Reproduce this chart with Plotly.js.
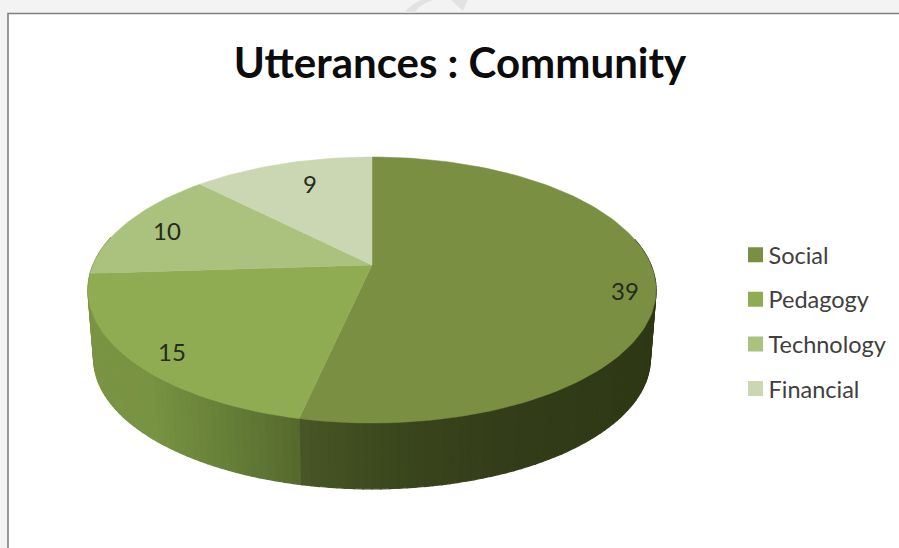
<!DOCTYPE html>
<html><head><meta charset="utf-8">
<script src="https://cdn.plot.ly/plotly-3.0.1.min.js"></script>
<style>html,body{margin:0;padding:0;background:#fff;overflow:hidden}#c{width:899px;height:548px}</style>
</head><body><div id="c"></div>
<script>
const categories = ['Social','Pedagogy','Technology','Financial'];
const values = [39,15,10,9];
const topColors = ['#7b8f42','#8fac52','#abc27f','#cbd7b2'];
const titleText = 'Utterances : Community';
const labelX = [625,172,167,310];
const labelY = [290,351,230,183];
// wall shading: [screen x, r, g, b]
const wallStops = [
  [[302,72,86,38],[400,58,70,28],[500,52,61,25],[660,46,56,21]],
  [[85,122,148,67],[150,120,147,66],[250,96,120,52],[302,86,104,45]],
  [[85,122,148,67],[302,122,148,67]],
  [[85,122,148,67],[302,122,148,67]]
];
const view = {cx:372, cy:265, a:128.3, b:279, d:0.188, depth:69, shrink:0.98};
function proj(deg, r, low){
  const th = deg*Math.PI/180, u = r*Math.sin(th), t = -r*Math.cos(th), w = 1 - view.d*t;
  let x = view.b*u/w, y = view.a*t/w;
  if(low){ x*=view.shrink; y=y*view.shrink+view.depth; }
  return [view.cx+x, view.cy+y];
}
function wallColor(stops,x){
  let s=stops, i=0;
  if(x<=s[0][0]) i=0; else { while(i<s.length-2 && x>s[i+1][0]) i++; }
  const f=Math.max(0,Math.min(1,(x-s[i][0])/(s[i+1][0]-s[i][0])));
  const c=[1,2,3].map(k=>Math.round(s[i][k]+(s[i+1][k]-s[i][k])*f));
  return 'rgb('+c.join(',')+')';
}
const total = values.reduce((a,b)=>a+b,0);
const traces = [];
let start = 0;
const bounds = values.map(v=>{const s=start; start+=v/total*360; return [s,start];});
// side wall
const wallFrom = 78, wallTo = 283, step = 1.5;
bounds.forEach((bd,i)=>{
  const lo=Math.max(bd[0],wallFrom), hi=Math.min(bd[1],wallTo);
  for(let a=lo; a<hi-1e-6; a+=step){
    const e=Math.min(a+step,hi);
    const p=[proj(a,1,false),proj(e,1,false),proj(e,1,true),proj(a,1,true)];
    const col=wallColor(wallStops[i],(p[0][0]+p[1][0])/2);
    traces.push({type:'scatter',mode:'lines',fill:'toself',fillcolor:col,line:{color:col,width:1.2},
      x:p.map(q=>q[0]).concat(p[0][0]),y:p.map(q=>q[1]).concat(p[0][1]),showlegend:false,hoverinfo:'skip'});
  }
});
// top face
bounds.forEach((bd,i)=>{
  const xs=[view.cx], ys=[view.cy];
  const n=Math.ceil((bd[1]-bd[0])/1.5);
  for(let k=0;k<=n;k++){const q=proj(bd[0]+(bd[1]-bd[0])*k/n,1,false);xs.push(q[0]);ys.push(q[1]);}
  xs.push(view.cx);ys.push(view.cy);
  traces.push({type:'scatter',mode:'lines',fill:'toself',fillcolor:topColors[i],line:{color:topColors[i],width:0.5},
    x:xs,y:ys,name:categories[i],legendgroup:categories[i],showlegend:false,hoverinfo:'skip'});
});
// legend entries
categories.forEach((c,i)=>{
  traces.push({type:'scatter',mode:'markers',x:[null],y:[null],name:c,legendgroup:c,
    marker:{symbol:'square',size:15,color:topColors[i]},hoverinfo:'skip'});
});
const layout = {
  width:899,height:548,margin:{l:0,r:0,t:0,b:0},
  paper_bgcolor:'#f3f3f3',plot_bgcolor:'rgba(0,0,0,0)',
  font:{family:'Lato, sans-serif'},
  xaxis:{range:[0,899],visible:false,fixedrange:true},
  yaxis:{range:[548,0],visible:false,fixedrange:true},
  title:{text:'<b>'+titleText+'</b>',x:460/899,xanchor:'center',y:1-63/548,yanchor:'middle',
    font:{family:'Lato, sans-serif',size:42,color:'#0c0c0c'}},
  legend:{x:735.5/899,xanchor:'left',y:1-233/548,yanchor:'top',bgcolor:'rgba(0,0,0,0)',
    font:{family:'Lato, sans-serif',size:23.5,color:'#404040'},tracegroupgap:11,itemclick:false,itemdoubleclick:false},
  shapes:[
    {type:'rect',layer:'below',xref:'x',yref:'y',x0:8,x1:905,y0:13.5,y1:555,fillcolor:'#ffffff',line:{color:'#808080',width:1.6}},
    {type:'path',layer:'below',xref:'x',yref:'y',path:'M404 13 Q412 2 428 -2 L440 -2 Q420 3 414 13 Z',fillcolor:'#e2e2e2',line:{width:0}},
    {type:'path',layer:'below',xref:'x',yref:'y',path:'M450 -1 L468 -1 L463 11 Z',fillcolor:'#e2e2e2',line:{width:0}}
  ],
  annotations: values.map((v,i)=>({text:String(v),x:labelX[i],y:labelY[i],xref:'x',yref:'y',showarrow:false,
    xanchor:'center',yanchor:'middle',font:{family:'Lato, sans-serif',size:24,color:'#262b1a'}})),
  showlegend:true
};
Plotly.newPlot('c',traces,layout,{displayModeBar:false,staticPlot:true}).then(gd=>{
  gd.querySelectorAll('.legendtext').forEach(t=>{t.setAttribute('x', parseFloat(t.getAttribute('x'))-7);});
});
</script></body></html>
